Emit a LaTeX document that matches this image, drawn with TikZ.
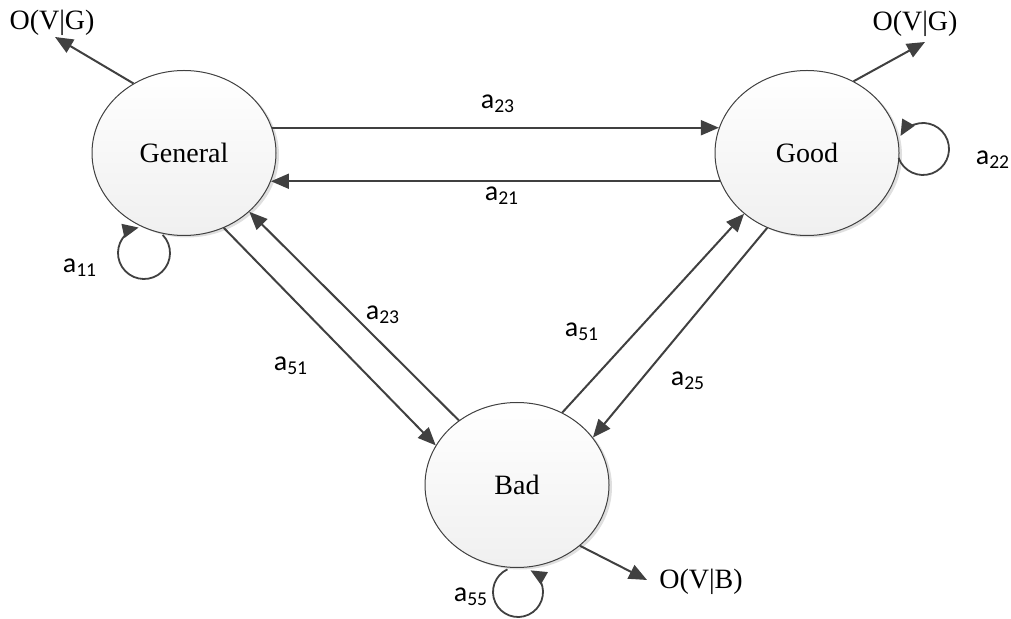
\documentclass[tikz,border=0pt]{standalone}
\usepackage{fontspec}
\setmainfont{Liberation Serif}
\newfontfamily\lblfont{Carlito}
\usetikzlibrary{arrows.meta,shapes.geometric,shadows,calc}
\definecolor{lc}{HTML}{404040}
\tikzset{
  state/.style={ellipse, draw=lc, line width=0.5pt, minimum width=92pt, minimum height=82.5pt,
    top color=white, bottom color=gray!12, inner sep=0pt,
    drop shadow={shadow xshift=1.5pt, shadow yshift=-1pt, opacity=0.25, fill=gray},
    font=\fontsize{14}{16}\selectfont},
  conn/.style={draw=lc, line width=1pt, -{Triangle[length=9pt,width=7.5pt]}},
  loopline/.style={draw=lc, line width=0.9pt, -{Triangle[length=8pt,width=7pt]}},
  lbl/.style={font=\lblfont\fontsize{14}{15}\selectfont, inner sep=0pt},
  outlbl/.style={font=\fontsize{14}{16}\selectfont, inner sep=0pt},
}
\begin{document}
\begin{tikzpicture}[x=0.5pt,y=-0.5pt]
\useasboundingbox (0,0) rectangle (1011,619);
% states
\node[state] (General) at (184,153) {General};
\node[state] (Good) at (807,153) {Good};
\node[state] (Bad) at (517,485) {Bad};
% output labels
\node[outlbl] (outA) at (52,23) {O(V|G)};
\node[outlbl] (outB) at (915,24) {O(V|G)};
\node[outlbl] (outC) at (701,582) {O(V|B)};
\coordinate (tipA) at (55,37);
\coordinate (tipB) at (925,42);
\coordinate (tipC) at (647,580);
% connectors between states
\draw[conn] (General.16) -- (Good.164);
\draw[conn] (Good.198.6) -- (General.-18.6);
\draw[conn] (General.-62.5) -- (Bad.154);
\draw[conn] (Bad.132) -- (General.-42);
\draw[conn] (Bad.58) -- (Good.224);
\draw[conn] (Good.242.5) -- (Bad.32);
% outputs
\draw[conn] (General.126) -- (tipA);
\draw[conn] (Good.57) -- (tipB);
\draw[conn] (Bad.-44) -- (tipC);
% self loops
\draw[loopline] (144,253) ++(-44:26) arc[start angle=-44, end angle=258, radius=26];
\draw[loopline] (923,149) ++(160:26) arc[start angle=160, end angle=-150, radius=26];
\draw[loopline] (518,592) ++(-115:25) arc[start angle=-115, end angle=-420, radius=25];
% transition labels
\node[lbl] (l1) at (498,104) {a\textsubscript{23}};
\node[lbl] (l2) at (502,196) {a\textsubscript{21}};
\node[lbl] (l3) at (383,315) {a\textsubscript{23}};
\node[lbl] (l4) at (291,366) {a\textsubscript{51}};
\node[lbl] (l5) at (582,332) {a\textsubscript{51}};
\node[lbl] (l6) at (688,381) {a\textsubscript{25}};
\node[lbl] (l7) at (80,268) {a\textsubscript{11}};
\node[lbl] (l8) at (993,160) {a\textsubscript{22}};
\node[lbl] (l9) at (471,597) {a\textsubscript{55}};
\end{tikzpicture}
\end{document}
